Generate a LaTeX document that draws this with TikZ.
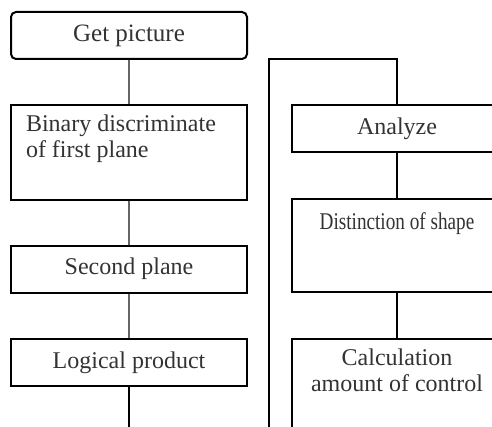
\documentclass[tikz,border=0pt]{standalone}
\usepackage{fontspec}
\setmainfont{Liberation Serif}
\usepackage{graphicx}
\usetikzlibrary{positioning}
\tikzset{
  box/.style={rectangle,draw=black,line width=1pt,fill=white,
              minimum width=#1,minimum height=23.5pt,inner sep=0pt,
              text=black!80,font=\fontsize{12}{13}\selectfont},
  box/.default=118pt,
  roundbox/.style={box,rounded corners=2.5pt},
  link/.style={line width=1pt,black},
  softlink/.style={line width=1pt,black!60},
}
\begin{document}
\begin{tikzpicture}[x=0.5pt,y=-0.5pt]
  \useasboundingbox (0,0) rectangle (492,427);
  \clip (0,0) rectangle (492,427);
  \fill[white] (0,0) rectangle (492,427);

  % left column
  \node[roundbox,font=\fontsize{12.5}{14}\selectfont] (get) at (129,35.5) {Get picture};
  \node[box,minimum height=47.5pt] (bin) at (129,152.5)
    {\parbox[c][47.5pt][t]{118pt}{\vspace{5pt}\raggedright\leftskip=7.5pt
     Binary discriminate\\of first plane}};
  \node[box] (sec) at (129,269) {Second plane};
  \node[box] (logi) at (129,362.5) {Logical product};
  \coordinate (leftend) at (logi.south |- 0,440);

  \foreach \a/\b in {get/bin,bin/sec,sec/logi}
    \draw[softlink] (\a) -- (\b);
  \draw[link] (logi) -- (leftend);

  % right column
  \node[box=105pt] (analyze) at (397,129) {Analyze};
  \node[box=105pt,minimum height=46.5pt] (dist) at (397,245.5)
    {\parbox[c][46.5pt][t]{105pt}{\vspace{7pt}\centering
     \scalebox{0.8}[1]{Distinction of shape}}};
  \node[box=105pt,minimum height=60pt] (calc) at (397,399)
    {\parbox[c][60pt][t]{105pt}{\vspace{5pt}\centering
     Calculation\\amount of control}};
  \coordinate (loopend) at (269,440);
  \coordinate (loopcorner) at (analyze.north |- 0,59);

  \draw[link] (loopend) |- (loopcorner) -- (analyze.north);
  \foreach \a/\b in {analyze/dist,dist/calc}
    \draw[link] (\a) -- (\b);
\end{tikzpicture}
\end{document}
